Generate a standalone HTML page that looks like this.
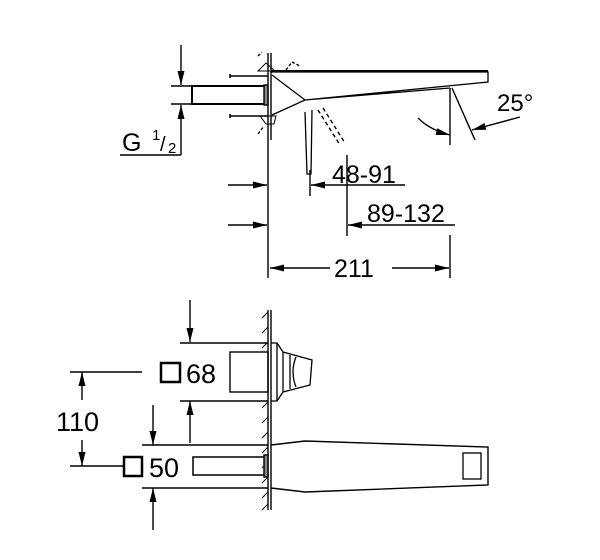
<!DOCTYPE html>
<html><head><style>body{margin:0;background:#fff}svg{display:block}</style></head><body>
<svg width="600" height="560" viewBox="0 0 600 560" xmlns="http://www.w3.org/2000/svg" font-family="Liberation Sans, sans-serif">
<defs><marker id="a" viewBox="0 0 14 7" refX="14" refY="3.5" markerWidth="14" markerHeight="7" orient="auto" markerUnits="userSpaceOnUse"><path d="M0,0L14,3.5L0,7z" fill="#000"/></marker></defs>
<g stroke="#000" fill="none" stroke-width="1.4">
<!-- TOP VIEW -->
<line x1="268" y1="53" x2="268" y2="278"/><line x1="271" y1="53" x2="271" y2="140"/>
<line x1="181" y1="45" x2="181" y2="85" marker-end="url(#a)"/>
<line x1="181" y1="155" x2="181" y2="105" marker-end="url(#a)"/>
<line x1="171" y1="86" x2="192" y2="86"/><line x1="171" y1="104" x2="192" y2="104"/>
<line x1="120" y1="155" x2="181" y2="155"/>
<rect x="192" y="86" width="73" height="18" stroke-width="2"/>
<path d="M230 76H268M230 116H268M230 74V78M230 114V118" stroke-width="1.6"/>
<rect x="264" y="85" width="4" height="20" fill="#888"/>
<path d="M258 71L266 63L275 71ZM260 116H276L274 124H266Z" stroke-width="1"/>
<path d="M258 56L262 52M258 134L264 126M286 70L292 62L300 66" stroke-dasharray="3 2"/>
<path d="M271 72H488V82L305 100L272 115M272 75L305 100L450 88" stroke-width="1.3"/>
<line x1="271" y1="71" x2="488" y2="71" stroke-width="2"/>
<path d="M305 112L307 174H311L312 110" stroke-width="1.3"/>
<path d="M318 110L340 145M323 108L345 143" stroke-dasharray="4 3"/>
<line x1="450" y1="88" x2="450" y2="145"/>
<line x1="452" y1="88" x2="475" y2="140"/>
<path d="M418 118Q430 130 450 135" marker-end="url(#a)"/>
<line x1="520" y1="117" x2="472" y2="130" marker-end="url(#a)"/>
<line x1="310" y1="170" x2="310" y2="196"/>
<line x1="405" y1="185" x2="311" y2="185" marker-end="url(#a)"/>
<line x1="228" y1="185" x2="267" y2="185" marker-end="url(#a)"/>
<line x1="347" y1="155" x2="347" y2="236"/>
<line x1="455" y1="225" x2="348" y2="225" marker-end="url(#a)"/>
<line x1="228" y1="225" x2="267" y2="225" marker-end="url(#a)"/>
<line x1="450" y1="235" x2="450" y2="278"/>
<line x1="330" y1="268" x2="270" y2="268" marker-end="url(#a)"/>
<line x1="392" y1="268" x2="449" y2="268" marker-end="url(#a)"/>
<!-- BOTTOM VIEW -->
<line x1="268" y1="310" x2="268" y2="510"/><line x1="271" y1="310" x2="271" y2="510"/>
<path d="M262 318l6-6M262 333l6-6M262 348l6-6M262 408l6-6M262 423l6-6M262 438l6-6M262 453l6-6M262 468l6-6M262 483l6-6M262 498l6-6M262 510l6-6" stroke-width="1"/>
<line x1="190" y1="300" x2="190" y2="342" marker-end="url(#a)"/>
<line x1="180" y1="343" x2="268" y2="343"/>
<line x1="180" y1="401" x2="268" y2="401"/>
<line x1="190" y1="443" x2="190" y2="401" marker-end="url(#a)"/>
<rect x="230" y="352" width="38" height="40" stroke-width="1.4"/>
<path d="M271 343H277V401H271M277 343L283 352V392L277 401M283 352L312 360L310 385L283 392M290 355V389M296 357Q290 372 296 387" stroke-width="1.3"/>
<line x1="70" y1="372" x2="142" y2="372"/>
<line x1="70" y1="466" x2="125" y2="466"/>
<line x1="82" y1="400" x2="82" y2="372" marker-end="url(#a)"/>
<line x1="82" y1="440" x2="82" y2="466" marker-end="url(#a)"/>
<line x1="153" y1="405" x2="153" y2="445" marker-end="url(#a)"/>
<line x1="142" y1="445" x2="268" y2="445"/>
<line x1="142" y1="488" x2="268" y2="488"/>
<line x1="153" y1="530" x2="153" y2="488" marker-end="url(#a)"/>
<rect x="161" y="363" width="19" height="19" stroke-width="2.5"/>
<rect x="124" y="457" width="18" height="19" stroke-width="2.5"/>
<rect x="193" y="457" width="72" height="18" stroke-width="1.5"/>
<rect x="264" y="455" width="4" height="22" fill="#888"/>
<path d="M271 445L305 441L488 447V485L305 492L271 488" stroke-width="1.4"/>
<rect x="463" y="453" width="18" height="26" stroke-width="1.3"/>
</g>
<g font-size="25" fill="#000">
<text x="122" y="151">G</text><text x="152" y="140" font-size="15">1</text><text x="160" y="151" font-size="20">/</text><text x="168" y="153" font-size="15">2</text>
<text x="497" y="111" font-size="24">25°</text>
<text x="332" y="183">48-91</text>
<text x="367" y="222">89-132</text>
<text x="334" y="277">211</text>
<text x="186" y="383" font-size="27">68</text>
<text x="56" y="431" font-size="27">110</text>
<text x="149" y="477" font-size="27">50</text>
</g>
</svg>
</body></html>
